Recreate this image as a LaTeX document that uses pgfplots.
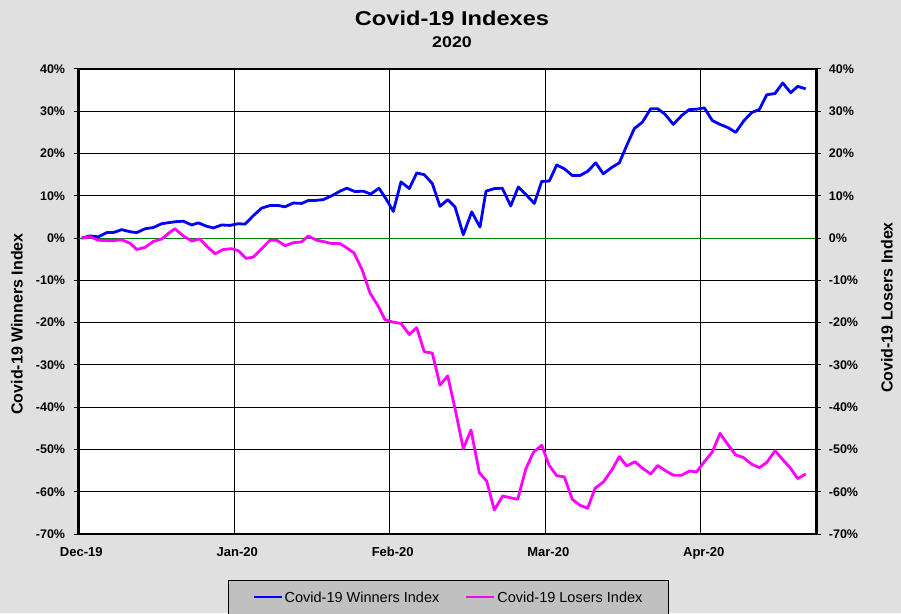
\documentclass[border=0pt]{standalone}
\usepackage{pgfplots}
\pgfplotsset{compat=1.18}
\usepackage{fontspec}
\setmainfont{Liberation Sans}
\definecolor{bg}{RGB}{224,224,224}
\definecolor{legbg}{RGB}{192,192,192}
\definecolor{zeroline}{RGB}{0,128,0}
\definecolor{winblue}{RGB}{0,0,255}
\definecolor{losmag}{RGB}{255,0,255}
\begin{document}
\begin{tikzpicture}
\clip (0pt,0pt) rectangle (901pt,613pt);
\fill[bg] (0pt,0pt) rectangle (901pt,613pt);
\node[font=\bfseries\fontsize{20}{20}\selectfont, xscale=1.18, anchor=base] at (452pt,587pt) {Covid-19 Indexes};
\node[font=\bfseries\fontsize{15.5}{15.5}\selectfont, xscale=1.15, anchor=base] at (452pt,565pt) {2020};
\begin{axis}[
  at={(78.3pt,79pt)}, anchor=south west,
  scale only axis, width=738.4pt, height=465pt,
  xmin=0, xmax=738.4, ymin=-70, ymax=40,
  xtick={0,156,311.4,467,622.4},
  xticklabels={Dec-19,Jan-20,Feb-20,Mar-20,Apr-20},
  ytick={-70,-60,...,40},
  xtick pos=bottom, ytick pos=left,
  tick align=outside, major tick length=4pt,
  xtick style={draw=none},
  ytick style={black, line width=1pt},
  grid=major, major grid style={black, line width=1pt},
  axis line style={black, line width=2.5pt},
  axis background/.style={fill=white},
  /pgf/number format/assume math mode=true,
  yticklabel={\pgfmathprintnumber{\tick}\%},
  yticklabel style={font=\bfseries\fontsize{12.5}{12.5}\selectfont, anchor=east, inner sep=0pt, xshift=-9pt},
  xticklabel style={font=\bfseries\fontsize{13}{13}\selectfont, anchor=base, inner sep=0pt, yshift=-18pt, xshift=3pt},
  ylabel={Covid-19 Winners Index},
  ylabel style={font=\bfseries\fontsize{16}{16}\selectfont, at={(axis description cs:-0.083,0.4516)}, anchor=center},
  legend columns=2,
  legend style={at={(axis description cs:0.5014,-0.0989)}, anchor=north,
    fill=legbg, draw=black, line width=1pt,
    font=\fontsize{14.5}{14.5}\selectfont,
    inner xsep=24pt, inner ysep=11pt,
    nodes={inner xsep=2pt, inner ysep=0pt},
    /tikz/every even column/.append style={column sep=24pt}},
  legend image code/.code={\draw[#1, line width=2pt] (0pt,0pt) -- (28pt,0pt);},
]
\addplot[zeroline, line width=1pt, forget plot] coordinates {(0,0) (738.4,0)};
\addplot[winblue, line width=2.8pt, line join=round] coordinates {
(3.4,0.0)(11.7,0.5)(20.0,0.3)(28.4,1.3)(35.0,1.3)(43.4,2.0)(51.7,1.5)(58.4,1.3)(66.7,2.2)(75.0,2.5)
(83.4,3.4)(91.7,3.7)(98.4,3.9)(105.0,4.0)(113.4,3.1)(120.0,3.6)(128.4,2.8)(135.0,2.4)(143.4,3.1)(151.7,3.0)
(160.0,3.4)(166.7,3.3)(175.0,5.3)(183.4,7.1)(191.7,7.7)(200.0,7.7)(206.7,7.4)(215.0,8.3)(223.4,8.2)(230.0,8.9)
(236.7,8.9)(245.0,9.1)(253.4,10.0)(261.7,11.1)(268.4,11.8)(276.7,11.0)(285.0,11.1)(292.4,10.4)(300.7,11.8)(307.7,9.3)
(315.0,6.3)(322.7,13.3)(331.0,11.7)(338.4,15.4)(346.0,15.0)(354.0,12.9)(361.7,7.5)(369.4,9.1)(376.7,7.4)(385.0,0.8)
(393.4,6.2)(401.7,2.6)(407.7,11.1)(416.0,11.7)(424.0,11.8)(432.4,7.6)(440.0,12.1)(448.4,10.1)(456.0,8.2)(463.4,13.4)
(471.0,13.5)(478.4,17.3)(486.0,16.4)(494.0,14.8)(501.7,14.8)(509.4,15.8)(517.4,17.8)(525.0,15.2)(533.4,16.7)(541.0,17.8)
(548.4,21.9)(556.0,25.9)(564.0,27.4)(572.4,30.6)(579.4,30.6)(586.7,29.3)(595.0,26.9)(603.4,29.0)(611.0,30.4)(618.4,30.5)
(626.0,30.8)(634.0,27.8)(641.7,26.9)(650.0,26.1)(657.4,25.0)(665.7,27.8)(673.4,29.7)(681.0,30.4)(688.4,33.9)(696.7,34.2)
(704.4,36.7)(712.4,34.4)(719.4,35.9)(727.4,35.3)
};
\addlegendentry{Covid-19 Winners Index}
\addplot[losmag, line width=2.8pt, line join=round] coordinates {
(3.4,0.0)(11.7,0.3)(20.0,-0.5)(28.4,-0.6)(35.0,-0.6)(43.4,-0.4)(51.7,-1.2)(58.4,-2.7)(66.7,-2.2)(75.0,-0.8)
(83.4,-0.2)(91.7,1.4)(96.7,2.2)(105.0,0.5)(113.4,-0.7)(121.7,-0.2)(128.4,-1.9)(136.7,-3.7)(145.0,-2.7)(153.4,-2.5)
(160.0,-3.0)(167.7,-4.8)(175.0,-4.5)(183.4,-2.5)(191.7,-0.5)(198.4,-0.5)(206.7,-1.8)(215.0,-1.1)(223.4,-0.9)(230.0,0.5)
(238.4,-0.5)(246.7,-0.9)(253.4,-1.3)(261.7,-1.3)(268.4,-2.3)(275.7,-3.5)(284.0,-7.6)(291.7,-13.0)(299.4,-15.9)(306.7,-19.3)
(315.0,-19.9)(322.7,-20.2)(331.0,-22.8)(338.4,-21.2)(346.0,-26.9)(354.0,-27.2)(361.7,-34.8)(369.4,-32.6)(376.7,-40.3)(385.0,-49.8)
(392.7,-45.4)(401.0,-55.5)(408.4,-57.5)(416.0,-64.3)(424.4,-61.0)(431.7,-61.4)(439.4,-61.8)(447.4,-54.7)(455.0,-50.7)(463.4,-49.0)
(470.7,-53.7)(478.4,-56.2)(486.0,-56.5)(494.0,-61.8)(501.7,-63.2)(509.4,-63.9)(516.7,-59.2)(525.0,-57.7)(533.4,-54.9)(541.0,-51.7)
(548.4,-53.9)(556.7,-52.9)(564.4,-54.5)(572.4,-55.8)(579.4,-53.8)(587.7,-55.1)(595.0,-56.1)(603.4,-56.1)(611.0,-55.1)(618.4,-55.3)
(626.0,-52.9)(634.0,-50.6)(641.7,-46.2)(650.0,-49.0)(657.4,-51.3)(665.0,-51.9)(673.4,-53.5)(681.0,-54.3)(688.4,-53.1)(696.7,-50.3)
(704.4,-52.4)(712.4,-54.5)(719.4,-56.9)(727.4,-55.8)
};
\addlegendentry{Covid-19 Losers Index}
\end{axis}
\begin{axis}[
  at={(78.3pt,79pt)}, anchor=south west,
  scale only axis, width=738.4pt, height=465pt,
  xmin=0, xmax=738.4, ymin=-70, ymax=40,
  axis x line=none, axis y line*=right,
  ytick={-70,-60,...,40},
  tick align=outside, major tick length=4pt,
  ytick style={black, line width=1pt},
  axis line style={black, line width=2.5pt},
  /pgf/number format/assume math mode=true,
  yticklabel={\pgfmathprintnumber{\tick}\%},
  yticklabel style={font=\bfseries\fontsize{12.5}{12.5}\selectfont, anchor=west, inner sep=0pt, xshift=8pt},
  ylabel={Covid-19 Losers Index},
  ylabel style={font=\bfseries\fontsize{16}{16}\selectfont, at={(axis description cs:1.0952,0.487)}, anchor=center, rotate=0},
]
\addplot[draw=none, forget plot] coordinates {(0,0)};
\end{axis}
\end{tikzpicture}
\end{document}
